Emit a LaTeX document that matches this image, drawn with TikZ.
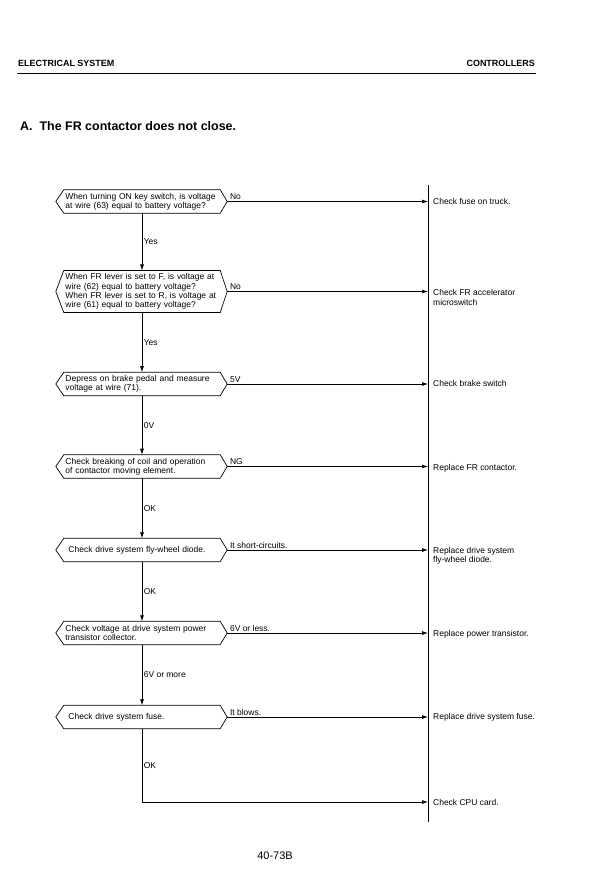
\documentclass[tikz,border=0pt]{standalone}
\usepackage{fontspec}
\setmainfont{Liberation Sans}
\usepackage{tikz}
\usetikzlibrary{arrows.meta}
\usetikzlibrary{calc}
\tikzstyle{query}=[rectangle,text width=153bp,align=left,inner xsep=1.5bp,inner ysep=3bp,minimum height=23bp,font=\fontsize{8.5}{9.3}\selectfont]
\tikzstyle{result}=[anchor=north west,inner sep=0pt,align=left,font=\fontsize{8.5}{9.3}\selectfont]
\tikzstyle{edge} = [draw,line width=0.7bp,-{Latex[length=6bp,width=4bp]}]
\tikzstyle{wire} = [draw,line width=0.7bp]
\tikzstyle{answer} = [inner sep=1.5bp,font=\fontsize{8.5}{9.3}\selectfont]
\tikzset{hexline/.style={draw,line width=0.7bp,line join=miter}}

\begin{document}
\begin{tikzpicture}[x=1bp,y=-1bp]

  \useasboundingbox (0,0) rectangle (612,881);

  % page head
  \node[anchor=west,inner sep=0pt,font=\bfseries\fontsize{9}{10}\selectfont] (head) at (18,63) {ELECTRICAL SYSTEM};
  \node[anchor=east,inner sep=0pt,font=\bfseries\fontsize{9}{10}\selectfont] (sect) at (535,63) {CONTROLLERS};
  \draw[line width=0.9bp] (17,73) -- (536,73);
  \node[anchor=west,inner sep=0pt,font=\bfseries\fontsize{12.5}{14}\selectfont] (title) at (20,126) {A.\ \ The FR contactor does not close.};

  % checks
  \foreach \y/\name/\label in {201.5/q1/{When turning ON key switch, is voltage\\at wire (63) equal to battery voltage?},
      291.5/q2/{When FR lever is set to F, is voltage at\\wire (62) equal to battery voltage?\\When FR lever is set to R, is voltage at\\wire (61) equal to battery voltage?},
      384/q3/{Depress on brake pedal and measure\\voltage at wire (71).},
      466.5/q4/{Check breaking of coil and operation\\of contactor moving element.}}
          \node[query] (\name) at (142,\y) {\label};

  \foreach \y/\name/\label in {550/q5/{\hspace*{3bp}Check drive system fly-wheel diode.},
      633/q6/{Check voltage at drive system power\\transistor collector.},
      717/q7/{\hspace*{3bp}Check drive system fuse.}}
          \node[query] (\name) at (142,\y) {\label};

  \foreach \name in {q1,q2,q3,q4,q5,q6,q7}
          \draw[hexline] (\name.north west) -- (\name.north east) -- ([xshift=7bp]\name.east) -- (\name.south east)
                -- (\name.south west) -- ([xshift=-8bp]\name.west) -- cycle;

  % remedies
  \foreach \y/\name/\label in {201/r1/{Check fuse on truck.}, 292.5/r2/{Check FR accelerator\\microswitch},
      383/r3/{Check brake switch}, 467/r4/{Replace FR contactor.}, 550/r5/{Replace drive system\\fly-wheel diode.},
      633/r6/{Replace power transistor.}, 716/r7/{Replace drive system fuse.}, 802/r8/{Check CPU card.}}
          \node[result] (\name) at (433,\y-3) {\label};

  \coordinate (bartop) at (428,185);
  \coordinate (barbot) at (428,822);
  \coordinate (cpu) at (428,802);
  \path[wire] (bartop) -- (barbot);

  \foreach \name/\answer in {q1/No, q2/No, q3/5V, q4/NG, q5/It short-circuits., q6/6V or less., q7/It blows.}
         \path[edge] ([xshift=7bp]\name.east) -- node[answer,pos=0,anchor=south west,xshift=1bp] {\answer} (\name.east -| bartop);

  \foreach \source/\dest/\answer in {q1/q2/Yes, q2/q3/Yes, q3/q4/0V, q4/q5/OK, q5/q6/OK, q6/q7/6V or more}
         \path[edge] (\source.south) -- node[answer,right] {\answer} (\dest.north);

  \path[edge] (q7.south) |- node[answer,right,pos=0.25] {OK} (cpu);

  \node[font=\fontsize{11}{13}\selectfont] (page) at (275,856) {40-73B};

\end{tikzpicture}
\end{document}
